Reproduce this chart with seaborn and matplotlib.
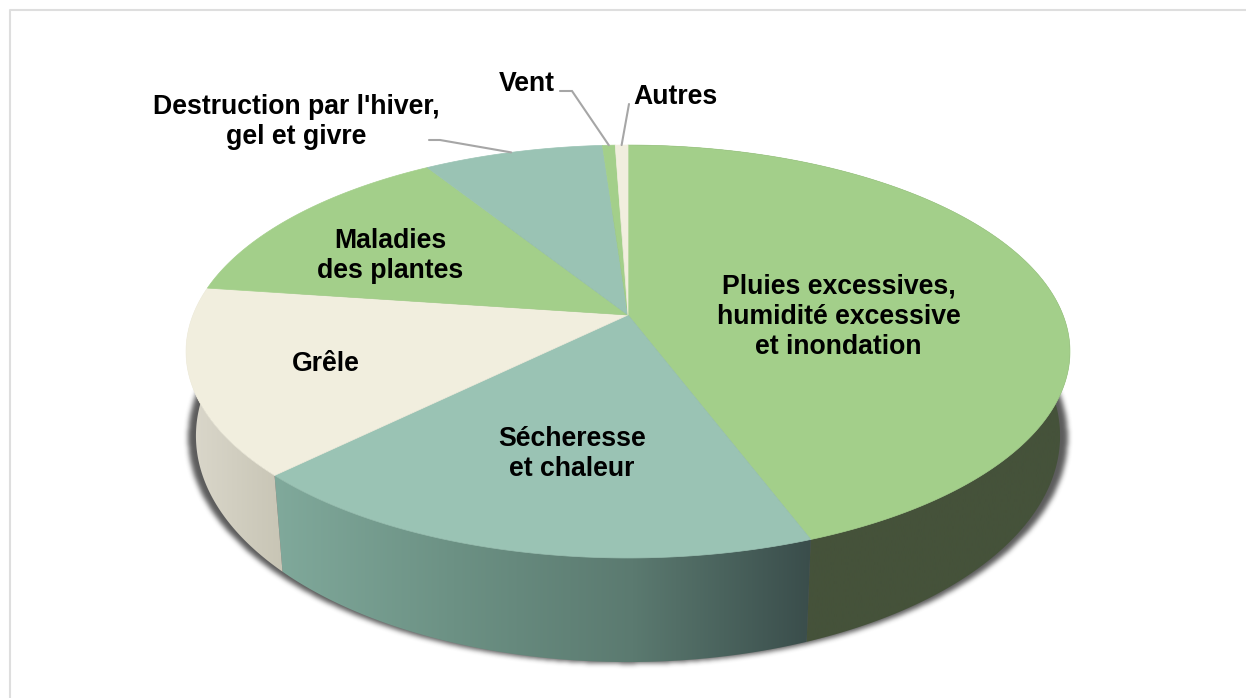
import numpy as np
import matplotlib
matplotlib.use("Agg")
import matplotlib.pyplot as plt
from matplotlib.path import Path
from matplotlib.patches import Polygon
from matplotlib.colors import LinearSegmentedColormap
import seaborn as sns

# ---- data -------------------------------------------------------------
categories = ["Pluies excessives,\nhumidité excessive\net inondation",
              "Sécheresse\net chaleur",
              "Grêle",
              "Maladies\ndes plantes",
              "Destruction par l'hiver,\ngel et givre",
              "Vent",
              "Autres"]
shares = [44.3, 18.3, 14.6, 13.9, 7.8, 0.55, 0.55]
top_colors = ["#A3CF8A", "#9AC3B4", "#F1EEDE", "#A3CF8A", "#9AC3B4", "#A3CF8A", "#F1EEDE"]
label_x = [838.5, 572, 326, 390, 296, 526.5, 675.5]
label_y = [317, 454, 364, 255.5, 122.5, 84, 97]

# ---- layout constants -------------------------------------------------
W, H = 1246, 698
CX, CY = 628, 315
A, B, K = 435, 200, 0.1768
S_LOW, Y_LOW, B_LOW = 0.9776, 396, 219

sns.set_theme(style="white")
plt.rcParams["font.family"] = ["Liberation Sans", "DejaVu Sans"]
palette = sns.color_palette(top_colors)


def upper(theta):
    u, v = np.sin(theta), np.cos(theta)
    d = 1 + K * v
    return CX + A * u / d, CY - B * v / d


def lower(theta):
    u, v = np.sin(theta), np.cos(theta)
    d = 1 + K * v
    return CX + S_LOW * A * u / d, Y_LOW - B_LOW * v / d


def box_blur(img, r, n=3):
    kernel = np.ones(2 * r + 1) / (2 * r + 1)
    for _ in range(n):
        img = np.apply_along_axis(lambda c: np.convolve(c, kernel, mode="same"), 0, img)
        img = np.apply_along_axis(lambda c: np.convolve(c, kernel, mode="same"), 1, img)
    return img


fig = plt.figure(figsize=(W / 100, H / 100), dpi=100, facecolor="white")
ax = fig.add_axes([0, 0, 1, 1])
ax.set_xlim(0, W)
ax.set_ylim(H, 0)
ax.axis("off")

# frame of the original chart area
ax.plot([10, 10, W + 5], [H + 5, 10, 10], color="#DEDEDE", lw=1.5, zorder=0)

# soft shadow beneath the disc
t = np.linspace(0, 2 * np.pi, 720)
lx, ly = lower(t)
sx = CX + (lx - CX) * 1.018
sy = ly + 1.5
xx, yy = np.meshgrid(np.arange(W) + 0.5, np.arange(H) + 0.5)
mask = Path(np.column_stack([sx, sy])).contains_points(np.column_stack([xx.ravel(), yy.ravel()])).reshape(H, W)
alpha = box_blur(mask.astype(float), 2) * 0.85
rgba = np.zeros((H, W, 4))
rgba[..., :3] = 0.25
rgba[..., 3] = alpha
ax.imshow(rgba, extent=(0, W, H, 0), aspect="auto", zorder=1, interpolation="bilinear")

# wedge boundaries
edges = np.radians(np.concatenate([[0], np.cumsum(shares)]) / sum(shares) * 360)

# side walls with horizontal gradient
side_stops = {
    0: ["#45523A", "#45523A"],
    1: ["#80A99B", "#6C9184", "#5B7A70", "#3A4D4B"],
    2: ["#DBD8CC", "#C8C5B5"],
}
for i, stops in side_stops.items():
    th = np.linspace(edges[i], edges[i + 1], 300)
    ux, uy = upper(th)
    bx, by = lower(th)
    pts = np.column_stack([np.r_[ux, bx[::-1]], np.r_[uy, by[::-1]]])
    poly = Polygon(pts, closed=True, transform=ax.transData, facecolor="none", edgecolor="none")
    ax.add_patch(poly)
    x0, x1 = pts[:, 0].min(), pts[:, 0].max()
    cmap = LinearSegmentedColormap.from_list("side", stops)
    im = ax.imshow(np.linspace(0, 1, 256)[None, :], extent=(x0, x1, 700, 0), aspect="auto",
                   cmap=cmap, zorder=2, interpolation="bilinear")
    im.set_clip_path(poly)
ax.set_xlim(0, W)
ax.set_ylim(H, 0)

# top faces
for i, col in enumerate(palette):
    th = np.linspace(edges[i], edges[i + 1], max(int(shares[i] * 12), 8))
    x, y = upper(th)
    ax.fill(np.r_[CX, x], np.r_[CY, y], color=col, lw=0.5, zorder=3)

# leader lines
leaders = [([560, 572], [91, 91], (edges[5] + edges[6]) / 2),
           ([629], [104], (edges[6] + edges[7]) / 2),
           ([429, 440], [140, 140], edges[4] + 0.49 * (edges[5] - edges[4]))]
for xs, ys, ang in leaders:
    ex, ey = upper(np.array([ang]))
    ax.plot(xs + [ex[0]], ys + [ey[0]], color="#A6A6A6", lw=1.5, zorder=4, solid_joinstyle="miter")

# labels
for name, x, y in zip(categories, label_x, label_y):
    ax.text(x, y, name, ha="center", va="center", ma="center", fontsize=19.2,
            fontweight="bold", color="black", linespacing=1.2, zorder=5)

fig.savefig("out.png", dpi=100, facecolor="white")
